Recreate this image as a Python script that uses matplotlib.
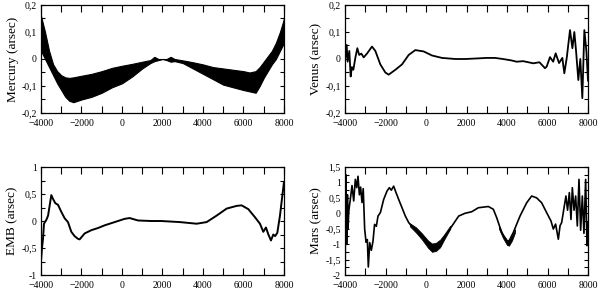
import matplotlib
matplotlib.use('Agg')
import matplotlib.pyplot as plt
from matplotlib.ticker import MultipleLocator, FuncFormatter

plt.rcParams['font.family'] = ['Liberation Serif', 'DejaVu Serif']

# Mercury: envelope of the dense band
merc_x = [-4000, -3800, -3600, -3400, -3200, -3000, -2800, -2600, -2400, -2200,
          -2000, -1500, -1000, -500, 0, 500, 1000, 1400, 1600, 1800,
          2000, 2200, 2400, 2600, 3000, 3500, 4000, 4500, 5000, 5500,
          6000, 6300, 6600, 6800, 7000, 7200, 7400, 7600, 7800, 8000]
merc_hi = [0.16, 0.10, 0.03, -0.02, -0.045, -0.06, -0.068, -0.07, -0.068, -0.065,
           -0.062, -0.055, -0.045, -0.033, -0.025, -0.018, -0.01, -0.004, 0.008, 0.0,
           0.0, 0.0, 0.008, 0.0, -0.005, -0.012, -0.02, -0.03, -0.035, -0.04,
           -0.045, -0.05, -0.045, -0.03, -0.01, 0.01, 0.03, 0.06, 0.10, 0.15]
merc_lo = [0.03, 0.0, -0.03, -0.06, -0.09, -0.115, -0.14, -0.155, -0.16, -0.155,
           -0.15, -0.14, -0.125, -0.105, -0.09, -0.065, -0.035, -0.015, -0.008, -0.004,
           0.0, -0.004, -0.01, -0.008, -0.015, -0.035, -0.055, -0.075, -0.095, -0.105,
           -0.115, -0.12, -0.125, -0.10, -0.07, -0.045, -0.02, 0.0, 0.03, 0.06]

venus_x = [-4000, -3983, -3918, -3870, -3786, -3720, -3660, -3588, -3490, -3391,
           -3300, -3193, -3078, -2914, -2667, -2502, -2255, -2008, -1844, -1514,
           -1185, -856, -527, -115, 296, 790, 1448, 1942, 2500, 3000,
           3407, 3800, 4200, 4478, 4800, 5300, 5600, 5876, 5960, 6123,
           6280, 6403, 6570, 6733, 6831, 6950, 7111, 7230, 7325, 7410,
           7522, 7620, 7720, 7819, 7920, 8000]
venus_y = [0.0, 0.004, 0.052, -0.01, 0.03, -0.065, -0.03, -0.04, 0.004, 0.04,
           0.015, 0.02, 0.006, 0.02, 0.046, 0.03, -0.02, -0.05, -0.058, -0.04,
           -0.02, 0.015, 0.033, 0.028, 0.013, 0.004, 0.0, 0.0, 0.002, 0.004,
           0.004, 0.0, -0.005, -0.01, -0.008, -0.016, -0.012, -0.034, -0.028, 0.007,
           -0.01, 0.021, -0.015, 0.004, -0.053, 0.004, 0.107, 0.04, 0.10, 0.03,
           -0.078, 0.0, -0.145, 0.107, 0.03, -0.08]

emb_x = [-4000, -3950, -3900, -3852, -3737, -3650, -3490, -3420, -3292, -3160,
         -2996, -2830, -2667, -2502, -2340, -2173, -2090, -1844, -1514, -1185,
         -856, -362, 132, 379, 790, 1448, 1942, 2864, 3687, 4180,
         4674, 5168, 5662, 5909, 6238, 6567, 6814, 6979, 7110, 7230,
         7357, 7473, 7560, 7670, 7802, 7900, 7999]
emb_y = [-0.75, -0.5, -0.33, -0.05, 0.02, 0.10, 0.48, 0.42, 0.33, 0.30,
         0.17, 0.05, -0.02, -0.20, -0.28, -0.33, -0.34, -0.23, -0.17, -0.13,
         -0.08, -0.02, 0.04, 0.055, 0.01, 0.0, 0.0, -0.02, -0.05, -0.02,
         0.10, 0.23, 0.28, 0.29, 0.22, 0.07, -0.05, -0.20, -0.12, -0.25,
         -0.36, -0.25, -0.28, -0.22, 0.10, 0.41, 0.72]

mars_x = [-4000, -3990, -3970, -3950, -3930, -3910, -3880, -3850, -3820, -3790,
          -3737, -3654, -3570, -3490, -3420, -3358, -3290, -3230, -3160, -3100,
          -3029, -2960, -2897, -2848, -2780, -2700, -2617, -2540, -2453, -2370,
          -2255, -2170, -2090, -1926, -1810, -1712, -1597, -1480, -1350, -1185,
          -1020, -856, -691, -362, -33, 296, 625, 955, 1284, 1613,
          1926, 2255, 2584, 3078, 3325, 3490, 3737, 3984, 4066, 4313,
          4642, 4971, 5218, 5465, 5712, 5959, 6173, 6288, 6400, 6535,
          6620, 6700, 6831, 6910, 6990, 7078, 7160, 7226, 7310, 7390,
          7473, 7555, 7637, 7720, 7800, 7884, 7950, 8000]
mars_y = [-0.3, -1.7, 1.25, 1.25, -1.0, -1.0, 0.6, -0.5, 0.0, 0.2,
          0.45, 0.9, 0.4, 1.1, 0.83, 1.2, 0.6, 0.85, 0.35, 0.8,
          -0.51, -0.94, -0.85, -1.74, -0.95, -1.2, -0.9, -0.36, -0.42, -0.09,
          0.02, 0.24, 0.45, 0.72, 0.83, 0.75, 0.88, 0.67, 0.45, 0.18,
          -0.09, -0.3, -0.43, -0.62, -0.84, -1.1, -1.05, -0.73, -0.41, -0.09,
          0.0, 0.05, 0.18, 0.22, 0.13, -0.14, -0.62, -0.9, -0.94, -0.62,
          -0.09, 0.34, 0.56, 0.5, 0.34, 0.02, -0.25, -0.51, -0.35, -0.84,
          -0.4, -0.3, 0.24, 0.56, 0.1, 0.67, -0.2, 0.83, 0.1, 0.56,
          -0.41, 1.1, -0.55, 0.56, -0.65, 1.1, -1.05, -0.3]

# thick parts of the Mars curve (two separate minima)
mars_band1_x = [-800, -500, -200, 100, 300, 500, 700, 900, 1200]
mars_band1_hi = [-0.32, -0.45, -0.65, -0.88, -0.98, -0.95, -0.85, -0.68, -0.40]
mars_band1_lo = [-0.42, -0.62, -0.85, -1.12, -1.25, -1.22, -1.10, -0.85, -0.50]
mars_band2_x = [3600, 3800, 4000, 4100, 4250, 4400]
mars_band2_hi = [-0.40, -0.68, -0.86, -0.86, -0.72, -0.52]
mars_band2_lo = [-0.50, -0.80, -1.03, -1.05, -0.88, -0.62]


def comma(v, pos):
    return ('%g' % round(v, 3)).replace('.', ',')


def style(ax, ylim, ymajor, yminor, ylabel):
    ax.set_xlim(-4000, 8000)
    ax.set_ylim(*ylim)
    ax.xaxis.set_major_locator(MultipleLocator(2000))
    ax.xaxis.set_minor_locator(MultipleLocator(1000))
    ax.yaxis.set_major_locator(MultipleLocator(ymajor))
    ax.yaxis.set_minor_locator(MultipleLocator(yminor))
    ax.yaxis.set_major_formatter(FuncFormatter(comma))
    ax.tick_params(which='both', direction='in', top=True, right=True, labelsize=7)
    ax.tick_params(axis='x', which='both', length=5, width=0.8, pad=4)
    ax.tick_params(axis='y', which='both', length=3, width=0.8, pad=3)
    for s in ax.spines.values():
        s.set_linewidth(0.9)
    ax.set_ylabel(ylabel, fontsize=9.5, labelpad=2)


fig = plt.figure(figsize=(6, 2.89), dpi=100)
ax1 = fig.add_axes([0.0683, 0.609, 0.405, 0.3737])
ax2 = fig.add_axes([0.575, 0.609, 0.405, 0.3737])
ax3 = fig.add_axes([0.0683, 0.0484, 0.405, 0.3737])
ax4 = fig.add_axes([0.575, 0.0484, 0.405, 0.3737])

ax1.fill_between(merc_x, merc_lo, merc_hi, color='black', lw=0.8)
style(ax1, (-0.2, 0.2), 0.1, 0.05, 'Mercury (arsec)')

ax2.plot(venus_x, venus_y, color='black', lw=1.3)
style(ax2, (-0.2, 0.2), 0.1, 0.05, 'Venus (arsec)')

ax3.plot(emb_x, emb_y, color='black', lw=1.4)
style(ax3, (-1, 1), 0.5, 0.25, 'EMB (arsec)')

ax4.plot(mars_x, mars_y, color='black', lw=1.2)
ax4.fill_between(mars_band1_x, mars_band1_lo, mars_band1_hi, color='black', lw=0.5)
ax4.fill_between(mars_band2_x, mars_band2_lo, mars_band2_hi, color='black', lw=0.5)
style(ax4, (-2, 1.5), 0.5, 0.25, 'Mars (arsec)')

fig.savefig('out.png', dpi=100)
